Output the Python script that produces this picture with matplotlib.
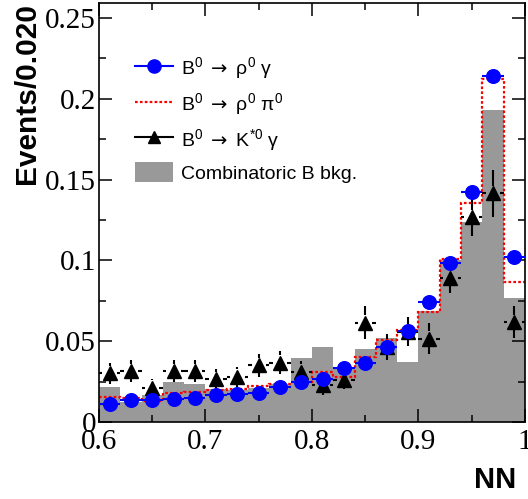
import numpy as np
import matplotlib
matplotlib.use("Agg")
import matplotlib.pyplot as plt
from matplotlib.ticker import MultipleLocator, FormatStrFormatter

# NN output binning: 20 bins of width 0.020 between 0.6 and 1.0
edges = np.linspace(0.6, 1.0, 21)
centers = 0.5 * (edges[:-1] + edges[1:])
half_bin = 0.01

# B0 -> rho0 gamma (signal MC), normalised
rho_gamma = [0.0114, 0.0134, 0.0135, 0.0144, 0.0151, 0.0166, 0.0173, 0.0178, 0.0219, 0.0250,
             0.0266, 0.0333, 0.0363, 0.0466, 0.0561, 0.0740, 0.0981, 0.1422, 0.2142, 0.1021]

# B0 -> rho0 pi0, normalised
rho_pi0 = [0.0153, 0.0151, 0.0130, 0.0178, 0.0188, 0.0200, 0.0204, 0.0223, 0.0235, 0.0248,
           0.0311, 0.0280, 0.0404, 0.0507, 0.0569, 0.0683, 0.1009, 0.1357, 0.2124, 0.0868]

# B0 -> K*0 gamma with statistical errors
kst_gamma = [0.0301, 0.0316, 0.0212, 0.0316, 0.0316, 0.0264, 0.0280, 0.0351, 0.0367, 0.0311,
             0.0227, 0.0262, 0.0615, 0.0466, 0.0560, 0.0516, 0.0893, 0.1270, 0.1415, 0.0618]
kst_gamma_err = [0.0066, 0.0066, 0.0056, 0.0066, 0.0066, 0.0062, 0.0062, 0.0070, 0.0070, 0.0066,
                 0.0058, 0.0060, 0.0100, 0.0080, 0.0090, 0.0095, 0.0095, 0.0120, 0.0145, 0.0100]

# combinatoric B background
comb_bkg = [0.0219, 0.0126, 0.0167, 0.0246, 0.0233, 0.0205, 0.0200, 0.0212, 0.0238, 0.0394,
            0.0462, 0.0330, 0.0450, 0.0518, 0.0373, 0.0690, 0.1005, 0.1240, 0.1931, 0.0765]

# arrow taken from the sf font (DejaVu) so it is drawn full width
legend_labels = [r'B$^0$ $\mathsf{\rightarrow}$ ρ$^0$ γ',
                 r'B$^0$ $\mathsf{\rightarrow}$ ρ$^0$ π$^0$',
                 r'B$^0$ $\mathsf{\rightarrow}$ K$^{*0}$ γ',
                 'Combinatoric B bkg.']

plt.rcParams['font.family'] = ['Liberation Sans', 'DejaVu Sans']
plt.rcParams['mathtext.fontset'] = 'custom'
plt.rcParams['mathtext.rm'] = 'Liberation Sans'
plt.rcParams['mathtext.it'] = 'Liberation Sans:italic'
plt.rcParams['mathtext.sf'] = 'DejaVu Sans'
plt.rcParams['mathtext.default'] = 'regular'


def split_bars(ax, x, y, xerr, yerr, xgap, ygap, color, lw, z):
    """error bars that stop short of the marker, ROOT style"""
    x = np.asarray(x)
    y = np.asarray(y)
    if yerr is not None:
        yerr = np.asarray(yerr)
        ax.vlines(x, y + ygap, y + yerr, color=color, lw=lw, zorder=z)
        ax.vlines(x, y - yerr, y - ygap, color=color, lw=lw, zorder=z)
    ax.hlines(y, x + xgap, x + xerr, color=color, lw=lw, zorder=z)
    ax.hlines(y, x - xerr, x - xgap, color=color, lw=lw, zorder=z)


fig = plt.figure(figsize=(5.28, 4.99), dpi=100)
ax = fig.add_axes([0.1875, 0.1543, 0.8068, 0.8397])

ax.stairs(comb_bkg, edges, fill=True, color='#999999', lw=0, zorder=1)
ax.stairs(rho_pi0, edges, baseline=None, color='red', lw=1.6,
          linestyle=(0, (1.2, 1.0)), zorder=2)

split_bars(ax, centers, kst_gamma, half_bin, kst_gamma_err, 0.0068, 0.0045, 'black', 1.5, 3)
ax.plot(centers, kst_gamma, '^', color='black', ms=9.5, zorder=3)

split_bars(ax, centers, rho_gamma, half_bin, None, 0.0066, 0, 'blue', 1.5, 4)
ax.plot(centers, rho_gamma, 'o', color='blue', ms=9.8, zorder=4)

# legend proxies
h_rg, = ax.plot([], [], '-o', color='blue', lw=1.5, ms=9.5)
h_rp, = ax.plot([], [], color='red', lw=1.6, linestyle=(0, (1.2, 1.0)))
h_kg, = ax.plot([], [], '-^', color='black', lw=1.5, ms=9)
h_bk = plt.Rectangle((0, 0), 1, 1, color='#999999', lw=0)
ax.legend([h_rg, h_rp, h_kg, h_bk], legend_labels,
          loc='upper left', bbox_to_anchor=(0.084, 0.875), frameon=False,
          fontsize=14, handlelength=1.95, handleheight=1.2, handletextpad=0.45,
          labelspacing=0.5, borderpad=0, borderaxespad=0)

ax.set_xlim(0.6, 1.0)
ax.set_ylim(0, 0.2593)

ax.xaxis.set_major_locator(MultipleLocator(0.1))
ax.xaxis.set_minor_locator(MultipleLocator(0.05))
ax.yaxis.set_major_locator(MultipleLocator(0.05))
ax.yaxis.set_minor_locator(MultipleLocator(0.025))
ax.xaxis.set_major_formatter(FormatStrFormatter('%g'))
ax.yaxis.set_major_formatter(FormatStrFormatter('%g'))

ax.tick_params(which='both', direction='in', top=True, right=True, width=1.1)
ax.tick_params(which='major', length=9.5)
ax.tick_params(which='minor', length=5)
ax.tick_params(axis='x', pad=5)
ax.tick_params(axis='y', pad=2)
for lab in ax.get_xticklabels() + ax.get_yticklabels():
    lab.set_family('Liberation Serif')
    lab.set_fontsize(21)
for sp in ax.spines.values():
    sp.set_linewidth(1.2)

ax.set_ylabel('Events/0.020', fontsize=21.5, fontweight='bold', loc='top')
ax.yaxis.set_label_coords(-0.135, 1.0)
ax.set_xlabel('NN', fontsize=21, fontweight='bold', loc='right')
ax.xaxis.set_label_coords(0.979, -0.105)

fig.savefig('out.png', dpi=100)
